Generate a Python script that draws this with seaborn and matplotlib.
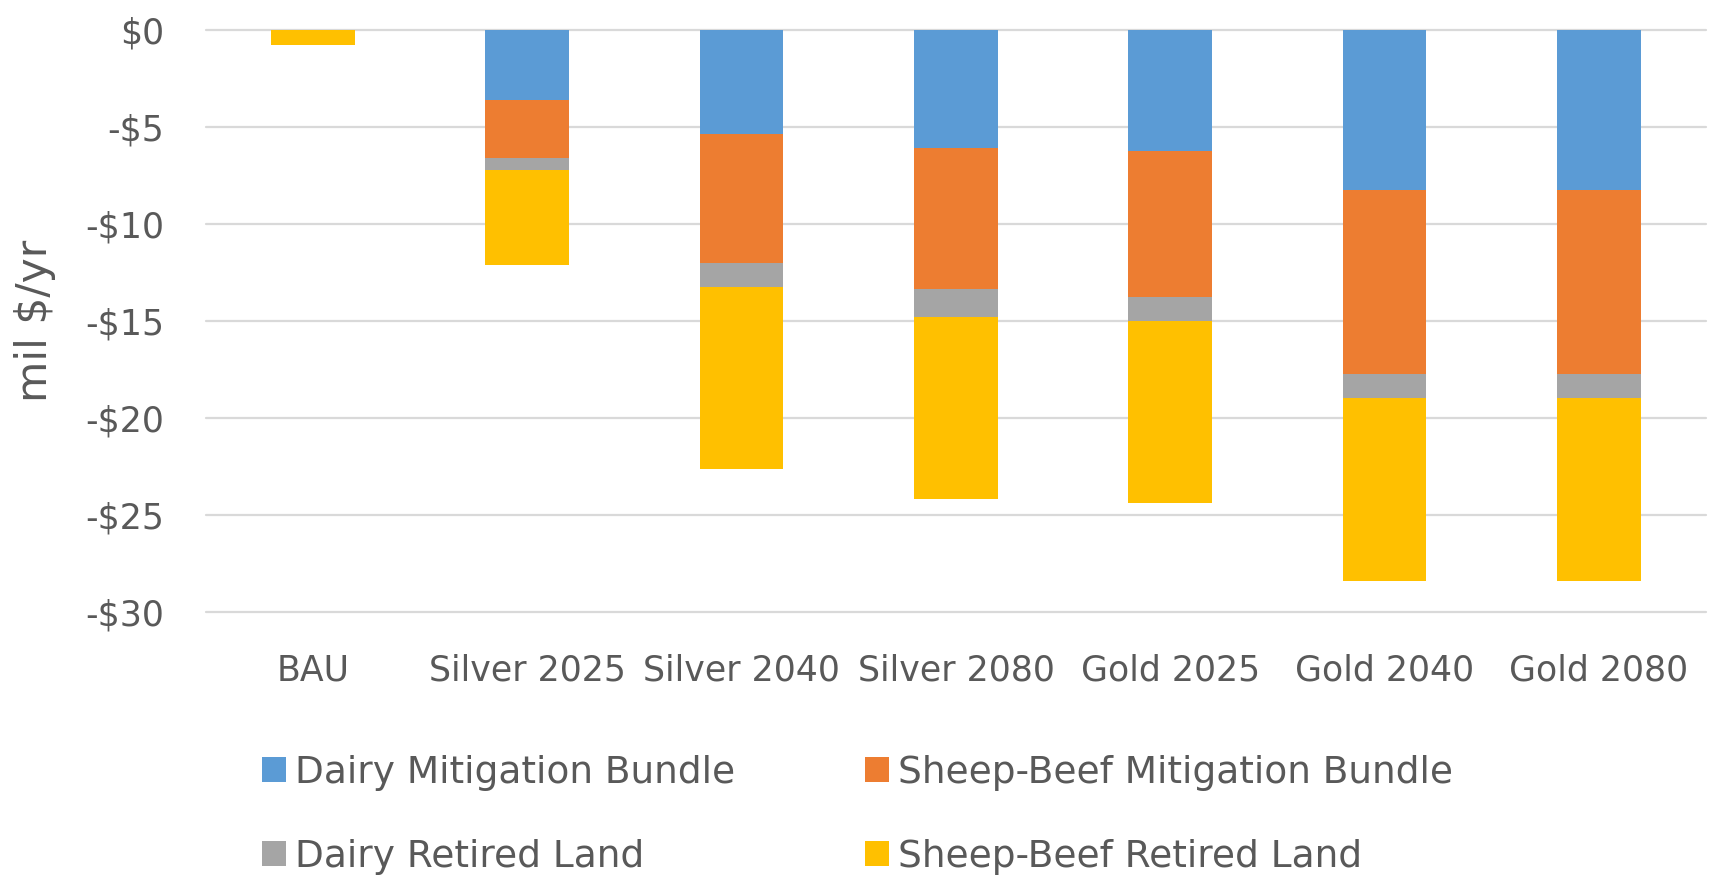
import matplotlib
matplotlib.use("Agg")
import matplotlib.pyplot as plt
from matplotlib.patches import Patch
from matplotlib.ticker import FuncFormatter
import numpy as np
import seaborn as sns

# Annual cost by scenario, million $ per year (negative = cost)
scenarios = ["BAU", "Silver 2025", "Silver 2040", "Silver 2080",
             "Gold 2025", "Gold 2040", "Gold 2080"]
dairy_mitigation = [0.0, -3.58, -5.35, -6.09, -6.20, -8.22, -8.22]
sheep_beef_mitigation = [0.0, -3.02, -6.63, -7.25, -7.57, -9.51, -9.51]
dairy_retired = [0.0, -0.61, -1.25, -1.44, -1.21, -1.25, -1.25]
sheep_beef_retired = [-0.78, -4.88, -9.40, -9.37, -9.42, -9.41, -9.41]

series_names = ["Dairy Mitigation Bundle", "Sheep-Beef Mitigation Bundle",
                "Dairy Retired Land", "Sheep-Beef Retired Land"]
series_colors = ["#5B9BD5", "#ED7D31", "#A5A5A5", "#FFC000"]
y_ticks = [0, -5, -10, -15, -20, -25, -30]

TEXT = "#595959"
GRID = "#D9D9D9"

sns.set_style("white")
plt.rcParams["font.family"] = ["DejaVu Sans"]

fig = plt.figure(figsize=(17.15, 8.8), dpi=100)
ax = fig.add_axes([0.120, 0.3045, 0.8748, 0.661])

# Stack the segments by drawing cumulative totals, deepest first
series = [dairy_mitigation, sheep_beef_mitigation, dairy_retired, sheep_beef_retired]
cumulative = np.cumsum(np.array(series), axis=0)
for level in range(len(series) - 1, -1, -1):
    sns.barplot(x=scenarios, y=cumulative[level], order=scenarios,
                color=series_colors[level], saturation=1, width=0.39,
                linewidth=0, errorbar=None, ax=ax, zorder=2)

ax.set_ylim(-30, 0)
ax.set_xlim(-0.5, len(scenarios) - 0.5)
ax.set_yticks(y_ticks)
for t in y_ticks:
    ax.axhline(t, color=GRID, lw=1.6, zorder=0, clip_on=False)

ax.yaxis.set_major_formatter(FuncFormatter(
    lambda v, _: f"${v:.0f}" if v >= 0 else f"-${abs(v):.0f}"))
ax.tick_params(axis="y", length=0, pad=30, labelsize=25, labelcolor=TEXT)
ax.tick_params(axis="x", length=0, pad=30, labelsize=25, labelcolor=TEXT)

ax.set_ylabel("mil $/yr", fontsize=30.5, color=TEXT)
ax.yaxis.set_label_coords(-0.10, 0.5)
ax.set_xlabel("")
sns.despine(ax=ax, left=True, bottom=True)

handle_order = [0, 2, 1, 3]
handles = [Patch(facecolor=series_colors[i], edgecolor="none") for i in handle_order]
labels = [series_names[i] for i in handle_order]
leg = fig.legend(handles, labels, ncol=2, loc="upper left",
                 bbox_to_anchor=(0.1528, 0.142), frameon=False, fontsize=27,
                 handlelength=0.64, handleheight=0.64, handletextpad=0.25,
                 columnspacing=3.44, labelspacing=1.27,
                 borderpad=0, borderaxespad=0)
for txt in leg.get_texts():
    txt.set_color(TEXT)

fig.savefig("out.png", dpi=100)
